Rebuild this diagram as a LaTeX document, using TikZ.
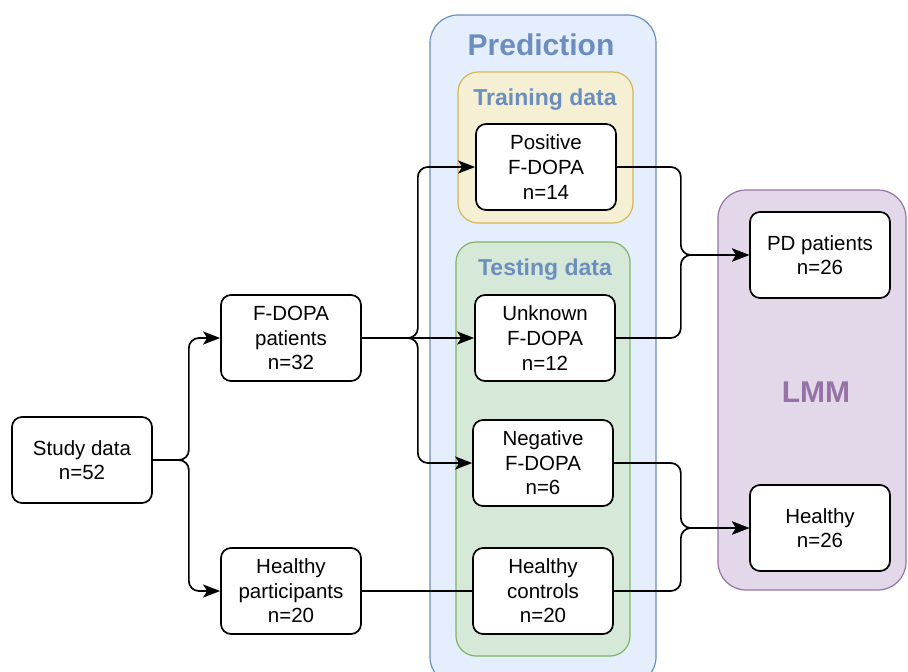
\documentclass[tikz,border=0pt]{standalone}
\usepackage{fontspec}
\setmainfont{Liberation Sans}
\usetikzlibrary{positioning,arrows.meta}
\definecolor{predfill}{RGB}{228,238,252}
\definecolor{predline}{RGB}{108,142,191}
\definecolor{trainfill}{RGB}{245,239,212}
\definecolor{trainline}{RGB}{214,182,86}
\definecolor{testfill}{RGB}{214,232,216}
\definecolor{testline}{RGB}{130,179,102}
\definecolor{lmmfill}{RGB}{227,216,234}
\definecolor{lmmline}{RGB}{150,115,166}
\begin{document}
\begin{tikzpicture}[x=1pt,y=-1pt]
                        \tikzstyle{every node}=[inner sep=0,align=center]
                        \tikzstyle{box}=[draw=black,line width=1.7,fill=white,rounded corners=10,minimum width=140,minimum height=86,font=\fontsize{20.5}{24.6}\selectfont]
                        \tikzstyle{group}=[line width=1.2,rounded corners=28]
                        \tikzstyle{title}=[font=\fontsize{23}{27}\selectfont\bfseries,text=predline]
                        \tikzstyle{link}=[line width=1.7,rounded corners=10]
                        \tikzstyle{arrow}=[link,-{Stealth[length=17,width=13,inset=4]}]
                        \useasboundingbox (0,0) rectangle (908,672);
                        {
                            % containers
                            \draw[group,fill=predfill,draw=predline] (430,15) rectangle (656,685);
                            \draw[group,fill=trainfill,draw=trainline,rounded corners=20] (458,72) rectangle (633,223);
                            \draw[group,fill=testfill,draw=testline,rounded corners=20] (456,242) rectangle (630,656);
                            \draw[group,fill=lmmfill,draw=lmmline] (718,190) rectangle (906,590);
                            \node[title,font=\fontsize{30}{34}\selectfont\bfseries] (tpred) at (541,45) {Prediction};
                            \node[title] (ttrain) at (545,100) {Training data};
                            \node[title] (ttest) at (545,270) {Testing data};
                            \node[title,font=\fontsize{30}{34}\selectfont\bfseries,text=lmmline] (tlmm) at (816,392) {LMM};

                            % boxes
                            \node[box] (study) at (82,460) {Study data\\n=52};
                            \node[box] (fdopa) at (291,338) {F-DOPA\\patients\\n=32};
                            \node[box] (hpart) at (291,591) {Healthy\\participants\\n=20};
                            \node[box] (pos) at (546,167) {Positive\\F-DOPA\\n=14};
                            \node[box] (unk) at (545,338) {Unknown\\F-DOPA\\n=12};
                            \node[box] (neg) at (543,463) {Negative\\F-DOPA\\n=6};
                            \node[box] (hctl) at (543,591) {Healthy\\controls\\n=20};
                            \node[box] (pd) at (820,255) {PD patients\\n=26};
                            \node[box] (hlth) at (820,528) {Healthy\\n=26};

                            % connectors
                            \draw[arrow] (study.east) -- ++(36,0) |- (fdopa.west);
                            \draw[arrow] (study.east) -- ++(36,0) |- (hpart.west);
                            \draw[arrow] (fdopa.east) -- ++(56,0) |- (pos.west);
                            \draw[arrow] (fdopa.east) -- (unk.west);
                            \draw[arrow] (fdopa.east) -- ++(56,0) |- (neg.west);
                            \draw[link] (hpart.east) -- (hctl.west);
                            \draw[arrow] (pos.east) -- ++(64,0) |- (pd.west);
                            \draw[arrow] (unk.east) -- ++(65,0) |- (pd.west);
                            \draw[arrow] (neg.east) -- ++(67,0) |- (hlth.west);
                            \draw[arrow] (hctl.east) -- ++(67,0) |- (hlth.west);
                        }
\end{tikzpicture}
\end{document}
